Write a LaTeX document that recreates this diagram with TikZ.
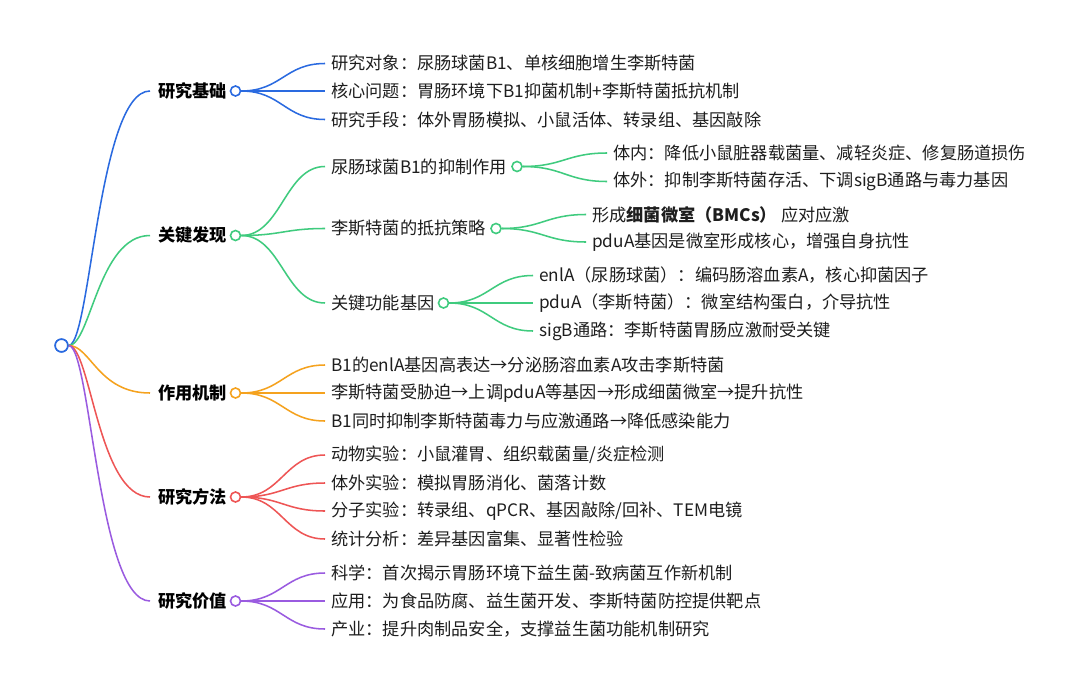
\documentclass[tikz,border=0pt]{standalone}
\usepackage{fontspec}
\setmainfont{Noto Sans CJK SC}
\definecolor{cblue}{HTML}{2A6AE0}
\definecolor{cgreen}{HTML}{3FCB7E}
\definecolor{corange}{HTML}{F5A21E}
\definecolor{cred}{HTML}{EE5555}
\definecolor{cpurple}{HTML}{9A5BE0}
\definecolor{txt}{HTML}{1E1E1E}
\tikzset{
  leaf/.style={anchor=west, inner xsep=4.5pt, inner ysep=0pt, text=txt, font=\fontsize{12.9}{15}\selectfont},
  branch/.style={anchor=west, inner xsep=6pt, inner ysep=0pt, text=black, font=\fontsize{12.9}{15}\selectfont\bfseries},
  dot/.style={circle, draw=#1, fill=white, line width=1.2pt, minimum size=7.5pt, inner sep=0pt},
  link/.style={line width=1.15pt, draw=#1},
}
\begin{document}
\begin{tikzpicture}[x=0.75pt,y=-0.75pt]
\useasboundingbox[fill=white] (0,0) rectangle (1080,692);

% root
\node[dot=cblue, minimum size=9.5pt] (root) at (61.5,345.5) {};

% level 1
\node[branch] (b1) at (150,91) {研究基础};
\node[branch] (b2) at (150,235.5) {关键发现};
\node[branch] (b3) at (150,393) {作用机制};
\node[branch] (b4) at (150,497) {研究方法};
\node[branch] (b5) at (150,601) {研究价值};

\foreach \n/\c in {b1/cblue,b2/cgreen,b3/corange,b4/cred,b5/cpurple}{
  \draw[link=\c] (root.east) .. controls +(22,0) and +(-52,0) .. (\n.west);
}

\node[dot=cblue] (c1) at (235.5,91) {};
\node[dot=cgreen] (c2) at (235.5,235.5) {};
\node[dot=corange] (c3) at (235.5,393) {};
\node[dot=cred] (c4) at (235.5,497) {};
\node[dot=cpurple] (c5) at (235.5,601) {};

% 研究基础
\node[leaf] (l11) at (325,63.5) {研究对象：尿肠球菌B1、单核细胞增生李斯特菌};
\node[leaf] (l12) at (325,91) {核心问题：胃肠环境下B1抑菌机制+李斯特菌抵抗机制};
\node[leaf] (l13) at (325,119.5) {研究手段：体外胃肠模拟、小鼠活体、转录组、基因敲除};
\foreach \n in {l11,l12,l13}{
  \draw[link=cblue] (c1.east) .. controls +(40,0) and +(-40,0) .. (\n.west);
}

% 关键发现
\node[leaf] (l21) at (325,166.5) {尿肠球菌B1的抑制作用};
\node[leaf] (l22) at (325,228.5) {李斯特菌的抵抗策略};
\node[leaf] (l23) at (325,303) {关键功能基因};
\foreach \n in {l21,l22,l23}{
  \draw[link=cgreen] (c2.east) .. controls +(40,0) and +(-40,0) .. (\n.west);
}
\node[dot=cgreen] (c21) at (517,166.5) {};
\node[dot=cgreen] (c22) at (496,228.5) {};
\node[dot=cgreen] (c23) at (443.5,303) {};

\node[leaf] (l211) at (607,153) {体内：降低小鼠脏器载菌量、减轻炎症、修复肠道损伤};
\node[leaf] (l212) at (607,181.5) {体外：抑制李斯特菌存活、下调sigB通路与毒力基因};
\foreach \n in {l211,l212}{
  \draw[link=cgreen] (c21.east) .. controls +(40,0) and +(-40,0) .. (\n.west);
}
\node[leaf] (l221) at (586,214.5) {形成\textbf{细菌微室（BMCs）} 应对应激};
\node[leaf] (l222) at (586,242) {pduA基因是微室形成核心，增强自身抗性};
\foreach \n in {l221,l222}{
  \draw[link=cgreen] (c22.east) .. controls +(40,0) and +(-40,0) .. (\n.west);
}
\node[leaf] (l231) at (533,275.5) {enlA（尿肠球菌）：编码肠溶血素A，核心抑菌因子};
\node[leaf] (l232) at (533,303) {pduA（李斯特菌）：微室结构蛋白，介导抗性};
\node[leaf] (l233) at (533,331) {sigB通路：李斯特菌胃肠应激耐受关键};
\foreach \n in {l231,l232,l233}{
  \draw[link=cgreen] (c23.east) .. controls +(40,0) and +(-40,0) .. (\n.west);
}

% 作用机制
\node[leaf] (l31) at (325,365) {B1的enlA基因高表达→分泌肠溶血素A攻击李斯特菌};
\node[leaf] (l32) at (325,393) {李斯特菌受胁迫→上调pduA等基因→形成细菌微室→提升抗性};
\node[leaf] (l33) at (325,421) {B1同时抑制李斯特菌毒力与应激通路→降低感染能力};
\foreach \n in {l31,l32,l33}{
  \draw[link=corange] (c3.east) .. controls +(40,0) and +(-40,0) .. (\n.west);
}

% 研究方法
\node[leaf] (l41) at (325,455) {动物实验：小鼠灌胃、组织载菌量/炎症检测};
\node[leaf] (l42) at (325,483) {体外实验：模拟胃肠消化、菌落计数};
\node[leaf] (l43) at (325,511) {分子实验：转录组、qPCR、基因敲除/回补、TEM电镜};
\node[leaf] (l44) at (325,539) {统计分析：差异基因富集、显著性检验};
\foreach \n in {l41,l42,l43,l44}{
  \draw[link=cred] (c4.east) .. controls +(40,0) and +(-40,0) .. (\n.west);
}

% 研究价值
\node[leaf] (l51) at (325,573) {科学：首次揭示胃肠环境下益生菌-致病菌互作新机制};
\node[leaf] (l52) at (325,601) {应用：为食品防腐、益生菌开发、李斯特菌防控提供靶点};
\node[leaf] (l53) at (325,629) {产业：提升肉制品安全，支撑益生菌功能机制研究};
\foreach \n in {l51,l52,l53}{
  \draw[link=cpurple] (c5.east) .. controls +(40,0) and +(-40,0) .. (\n.west);
}

% redraw root dot on top
\node[dot=cblue, minimum size=9.5pt] at (root) {};
\end{tikzpicture}
\end{document}
